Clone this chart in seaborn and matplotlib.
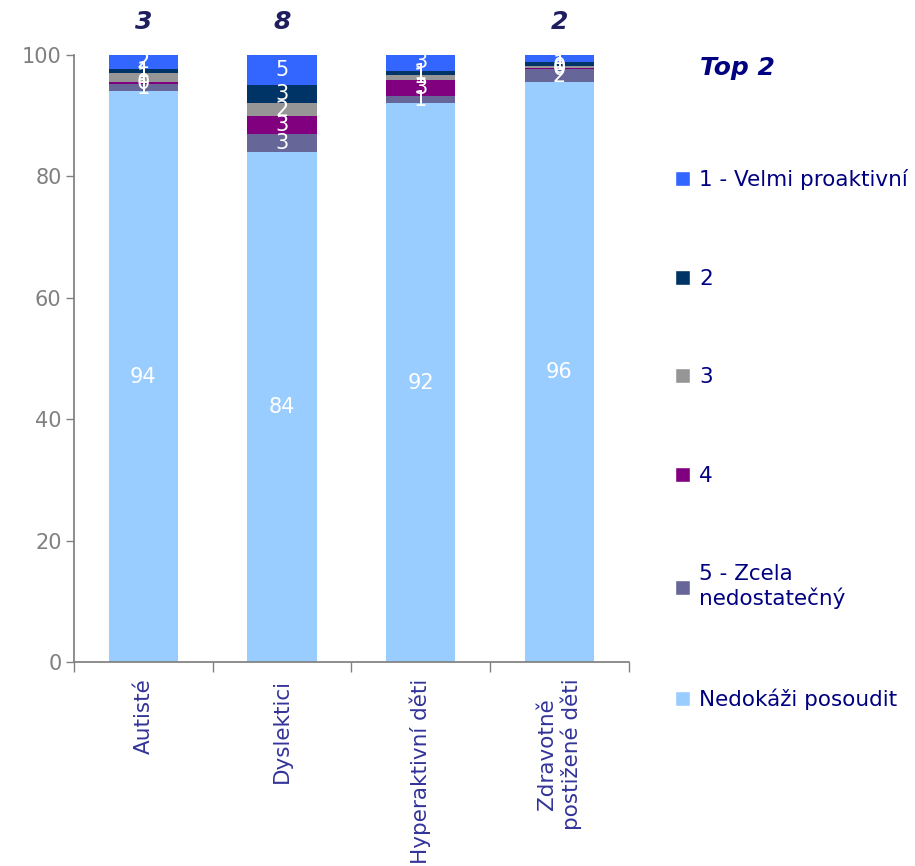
import numpy as np
import pandas as pd
import seaborn as sns
from matplotlib import pyplot as plt
from matplotlib.patches import Patch

categories = ["Autisté", "Dyslektici", "Hyperaktivní děti", "Zdravotně\npostižené děti"]

# shares in %, bottom segment first
nedokazi = [94.0, 84.0, 92.0, 95.6]
zcela_nedostatecny = [1.2, 3.0, 1.3, 2.0]
ctyri = [0.4, 3.0, 2.6, 0.3]
tri = [1.4, 2.0, 0.8, 0.3]
dva = [0.7, 3.0, 0.7, 0.7]
velmi_proaktivni = [2.3, 5.0, 3.0, 1.3]

top2 = ["3", "8", "", "2"]

series = [
    ("Nedokáži posoudit", nedokazi, "#99CCFF"),
    ("5 - Zcela\nnedostatečný", zcela_nedostatecny, "#666699"),
    ("4", ctyri, "#800080"),
    ("3", tri, "#969696"),
    ("2", dva, "#003366"),
    ("1 - Velmi proaktivní", velmi_proaktivni, "#3366FF"),
]

sns.set_theme(style="white")
plt.rcParams["font.family"] = ["DejaVu Sans"]

fig = plt.figure(figsize=(9.15, 8.66), dpi=100)
ax = fig.add_axes([0.081, 0.2356, 0.606, 0.701])

vals = np.array([s[1] for s in series])
cum = np.cumsum(vals, axis=0)

# stacked bars: draw the tallest cumulative first, then cover it
for i in range(len(series) - 1, -1, -1):
    df = pd.DataFrame({"cat": categories, "val": cum[i]})
    sns.barplot(data=df, x="cat", y="val", color=series[i][2], saturation=1,
                width=0.5, linewidth=0, ax=ax)

# white value labels in segment centres
for i in range(len(series)):
    base = cum[i] - vals[i]
    for j in range(len(categories)):
        ax.text(j, base[j] + vals[i][j] / 2, f"{vals[i][j]:.0f}", color="white",
                ha="center", va="center", fontsize=15)

for j, t in enumerate(top2):
    ax.text(j, 105.5, t, ha="center", va="center", fontsize=18, fontweight="bold",
            fontstyle="italic", color="#1F1F5F", clip_on=False)

ax.set_ylim(0, 100)
ax.set_xlim(-0.5, 3.5)
ax.set_xlabel("")
ax.set_ylabel("")
ax.set_yticks([0, 20, 40, 60, 80, 100])
ax.tick_params(axis="y", colors="#808080", labelsize=15, length=6, width=1, left=True, pad=3)
ax.set_xticks([0, 1, 2, 3])
ax.set_xticklabels(categories, rotation=90, ha="center", va="top", multialignment="center",
                   fontsize=15.5, color="#333399")
ax.tick_params(axis="x", length=0, pad=12)
ax.set_xticks([-0.5, 0.5, 1.5, 2.5, 3.5], minor=True)
ax.tick_params(axis="x", which="minor", bottom=True, length=7, color="#808080")
for side in ["top", "right"]:
    ax.spines[side].set_visible(False)
for side in ["left", "bottom"]:
    ax.spines[side].set_color("#808080")

handles = [Patch(facecolor=c, label=l) for l, _, c in series[::-1]]
fig.legend(handles=handles, loc="upper left", bbox_to_anchor=(0.716, 0.827),
           frameon=False, fontsize=15.5, labelcolor="#000080", labelspacing=3.65,
           handlelength=0.7, handleheight=0.7, handletextpad=0.45)
fig.text(0.765, 0.922, "Top 2", fontsize=18, fontweight="bold", fontstyle="italic",
         color="#000080", va="center")

fig.savefig("out.png", dpi=100)
